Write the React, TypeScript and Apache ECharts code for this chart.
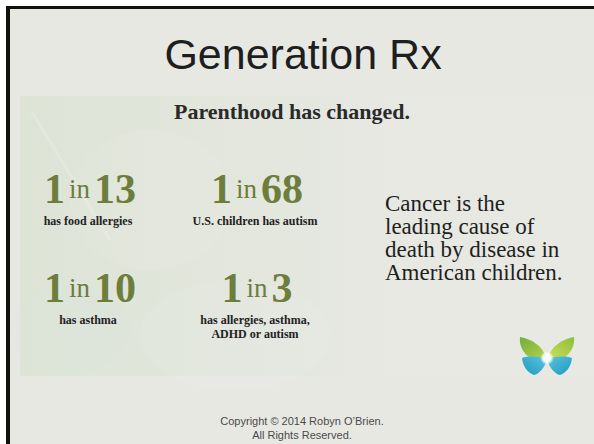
import React, { useEffect, useRef } from 'react';
import * as echarts from 'echarts';

// ---- content ----
const titleText = 'Generation Rx';
const subtitleText = 'Parenthood has changed.';
const statRatios = ['13', '68', '10', '3'];
const statCaptions = [
  ['has food allergies'],
  ['U.S. children has autism'],
  ['has asthma'],
  ['has allergies, asthma,', 'ADHD or autism'],
];
const cancerLines = ['Cancer is the', 'leading cause of', 'death by disease in', 'American children.'];
const copyrightLines = ['Copyright \u00a9 2014 Robyn O\u2019Brien.', 'All Rights Reserved.'];

// ---- layout ----
const W = 594;
const H = 444;
const statPos = [
  [90, 189],
  [257, 189],
  [90, 288],
  [257, 288],
];
const SERIF = '"Liberation Serif", "Times New Roman", serif';
const SANS = '"Liberation Sans", Arial, sans-serif';
const GREEN = '#6c7d3c';

const wingPaths: Record<string, string> = {
  wingUL: 'M26 20 C22 9 12 2 0 0 C-1 8 3 16 9 20 C15 23 21 23 26 21 Z',
  wingUR: 'M28 20 C32 9 42 2 54 0 C55 8 51 16 45 20 C39 23 33 23 28 21 Z',
  wingLL: 'M26 22 C18 19 8 19 2 21 C3 30 8 36 14 38 C19 37 24 31 26 25 Z',
  wingLR: 'M28 22 C36 19 46 19 52 21 C51 30 46 36 40 38 C35 37 30 31 28 25 Z',
};
let registered = false;
function registerWings() {
  if (registered) return;
  registered = true;
  Object.keys(wingPaths).forEach((k) => {
    echarts.graphic.registerShape(k, echarts.graphic.extendPath(wingPaths[k], {}) as any);
  });
}

function buildGraphic() {
  const g: any[] = [];
  // outer white, border, slide background
  g.push({ type: 'rect', shape: { x: 0, y: 0, width: W, height: H }, style: { fill: '#ffffff' } });
  g.push({ type: 'rect', shape: { x: 6, y: 6, width: W - 6, height: H - 6 }, style: { fill: '#111111' } });
  g.push({ type: 'rect', shape: { x: 10, y: 9, width: W - 10, height: H - 9 }, style: { fill: '#e8e8e3' } });
  // image panel
  g.push({
    type: 'rect',
    shape: { x: 20, y: 96, width: W - 20, height: 280 },
    style: {
      fill: {
        type: 'linear', x: 0, y: 0, x2: 1, y2: 0,
        colorStops: [
          { offset: 0, color: '#dde4d6' },
          { offset: 0.35, color: '#e2e6dc' },
          { offset: 0.6, color: '#e6e8e1' },
          { offset: 1, color: '#e8e9e3' },
        ],
      },
    },
  });
  // faint watermark shapes
  g.push({ type: 'ellipse', shape: { cx: 150, cy: 200, rx: 80, ry: 70 }, style: { fill: '#ffffff', opacity: 0.07 } });
  g.push({ type: 'ellipse', shape: { cx: 235, cy: 335, rx: 95, ry: 55 }, style: { fill: '#eef2f2', opacity: 0.15 } });
  g.push({ type: 'ellipse', shape: { cx: 70, cy: 330, rx: 60, ry: 45 }, style: { fill: '#d8e2dc', opacity: 0.18 } });
  g.push({ type: 'line', shape: { x1: 32, y1: 112, x2: 110, y2: 240 }, style: { stroke: '#eef0ea', lineWidth: 3, opacity: 0.35 } });

  // title
  g.push({
    type: 'text', x: 303, y: 75,
    style: { text: titleText, fill: '#1e1e1e', font: `43px ${SANS}`, align: 'center', verticalAlign: 'bottom' },
  });
  g.push({
    type: 'text', x: 292, y: 111,
    style: { text: subtitleText, fill: '#2a2a2a', font: `bold 22px ${SERIF}`, align: 'center', verticalAlign: 'middle' },
  });

  // stats
  statRatios.forEach((r, i) => {
    const [cx, cy] = statPos[i];
    g.push({
      type: 'text', x: cx, y: cy,
      style: {
        text: `{n|1}{s| }{i|in}{s| }{n|${r}}`,
        align: 'center', verticalAlign: 'middle',
        rich: {
          n: { fontFamily: SERIF, fontWeight: 'bold', fontSize: 42, fill: GREEN, lineHeight: 42 },
          i: { fontFamily: SERIF, fontWeight: 'normal', fontSize: 27, fill: GREEN, lineHeight: 42 },
          s: { fontFamily: SERIF, fontSize: 16, lineHeight: 42 },
        },
      },
    });
    g.push({
      type: 'text', x: cx - 2, y: cy + 25,
      style: {
        text: statCaptions[i].join('\n'), fill: '#222222', font: `bold 12px ${SERIF}`,
        lineHeight: 14, align: 'center', verticalAlign: 'top',
      },
    });
  });

  // cancer text
  cancerLines.forEach((t, i) => {
    g.push({
      type: 'text', x: 385, y: 203 + i * 23.3,
      style: { text: t, fill: '#1f1f1f', font: `23px ${SERIF}`, align: 'left', verticalAlign: 'middle' },
    });
  });

  // butterfly
  g.push({
    type: 'group', x: 520, y: 337,
    children: [
      { type: 'wingUL', style: { fill: { type: 'linear', x: 1, y: 1, x2: 0, y2: 0, colorStops: [{ offset: 0, color: '#b5d24a' }, { offset: 1, color: '#6fae3c' }] } } },
      { type: 'wingUR', style: { fill: { type: 'linear', x: 0, y: 1, x2: 1, y2: 0, colorStops: [{ offset: 0, color: '#cfe05a' }, { offset: 1, color: '#8cbc3e' }] } } },
      { type: 'wingLL', style: { fill: { type: 'linear', x: 1, y: 0, x2: 0, y2: 1, colorStops: [{ offset: 0, color: '#5cc4de' }, { offset: 1, color: '#1d97c2' }] } } },
      { type: 'wingLR', style: { fill: { type: 'linear', x: 0, y: 0, x2: 1, y2: 1, colorStops: [{ offset: 0, color: '#5cc4de' }, { offset: 1, color: '#1d97c2' }] } } },
      {
        type: 'circle', shape: { cx: 27, cy: 21, r: 7 },
        style: { fill: { type: 'radial', x: 0.5, y: 0.5, r: 0.5, colorStops: [{ offset: 0, color: '#ffffff' }, { offset: 0.55, color: 'rgba(255,255,255,0.9)' }, { offset: 1, color: 'rgba(255,255,255,0)' }] } },
      },
    ],
  });

  // copyright
  copyrightLines.forEach((t, i) => {
    g.push({
      type: 'text', x: 302, y: 421 + i * 14,
      style: { text: t, fill: '#4a4a4a', font: `11px ${SANS}`, align: 'center', verticalAlign: 'middle' },
    });
  });
  return g;
}

export default function App() {
  const ref = useRef<HTMLDivElement>(null);
  useEffect(() => {
    document.body.style.margin = '0';
    registerWings();
    const chart = echarts.init(ref.current!, undefined, { renderer: 'svg' });
    chart.setOption({ animation: false, graphic: { elements: buildGraphic() } });
    return () => chart.dispose();
  }, []);
  return <div ref={ref} style={{ width: W, height: H }} />;
}
